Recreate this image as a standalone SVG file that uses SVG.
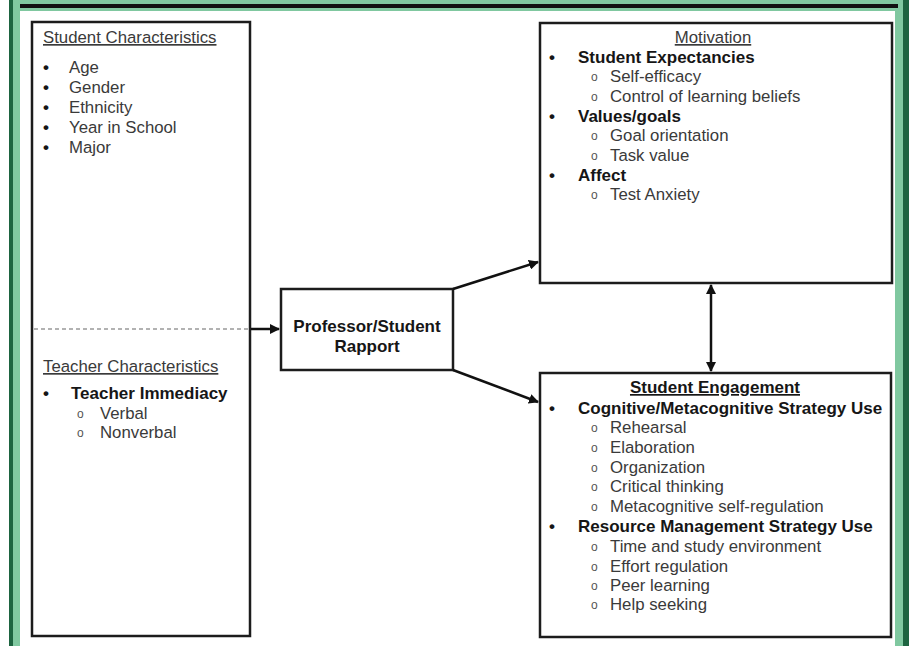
<svg xmlns="http://www.w3.org/2000/svg" width="909" height="646" viewBox="0 0 909 646">
<defs>
<marker id="ah" viewBox="0 0 10 10" refX="9" refY="5" markerWidth="10" markerHeight="10" markerUnits="userSpaceOnUse" orient="auto-start-reverse">
<path d="M0,0 L10,5 L0,10 z" fill="#111"/>
</marker>
<style>
.box{fill:#fff;stroke:#1c1c1c;stroke-width:2.5}
.t{font-family:"Liberation Sans",Arial,sans-serif;font-size:16.8px;fill:#3a3a3a}
.b{font-family:"Liberation Sans",Arial,sans-serif;font-size:17px;font-weight:bold;fill:#161616}
.h{font-family:"Liberation Sans",Arial,sans-serif;font-size:16.8px;fill:#3a3a3a;text-decoration:underline}
.hb{font-family:"Liberation Sans",Arial,sans-serif;font-size:17px;font-weight:bold;fill:#161616;text-decoration:underline}
.bu{font-family:"Liberation Sans",Arial,sans-serif;font-size:17px;font-weight:bold;fill:#161616}
.o{font-family:"Liberation Sans",Arial,sans-serif;font-size:12px;fill:#555}
.c{stroke:#111;stroke-width:2.5;fill:none}
</style>
</defs>
<rect x="0" y="0" width="909" height="646" fill="#fff"/>
<rect x="9" y="0" width="900" height="646" fill="#80c8a0"/>
<rect x="9" y="0" width="4" height="646" fill="#1d6440"/>
<rect x="903" y="0" width="6" height="646" fill="#1d6440"/>
<rect x="20" y="11" width="875" height="635" fill="#fff"/>
<rect x="20" y="4" width="878" height="4" fill="#111"/>

<g id="characteristics">
<rect class="box" x="32" y="22" width="218" height="614"/>
<text class="h" x="43" y="43">Student Characteristics</text>
<g class="bu"><text x="43" y="73">•</text><text x="43" y="93">•</text><text x="43" y="113">•</text><text x="43" y="133">•</text><text x="43" y="153">•</text></g>
<text class="t" x="69" y="73">Age</text>
<text class="t" x="69" y="93">Gender</text>
<text class="t" x="69" y="113">Ethnicity</text>
<text class="t" x="69" y="133">Year in School</text>
<text class="t" x="69" y="153">Major</text>
<line x1="34" y1="329" x2="248" y2="329" stroke="#999" stroke-width="1.5" stroke-dasharray="4 3"/>
<text class="h" x="43" y="372">Teacher Characteristics</text>
<text class="bu" x="43" y="399">•</text>
<text class="b" x="71" y="399">Teacher Immediacy</text>
<text class="o" x="77" y="418">o</text>
<text class="t" x="100" y="419">Verbal</text>
<text class="o" x="77" y="437">o</text>
<text class="t" x="100" y="438">Nonverbal</text>
</g>

<g id="rapport">
<rect class="box" x="281" y="289" width="172" height="81"/>
<text class="b" x="367" y="332" text-anchor="middle">Professor/Student</text>
<text class="b" x="367" y="352" text-anchor="middle">Rapport</text>
</g>

<g id="motivation">
<rect class="box" x="540" y="23" width="352" height="260"/>
<text class="h" x="713" y="43" text-anchor="middle">Motivation</text>
<g class="bu"><text x="549" y="63">•</text><text x="549" y="122">•</text><text x="549" y="181">•</text></g>
<text class="b" x="578" y="63">Student Expectancies</text>
<text class="o" x="591" y="81">o</text><text class="t" x="610" y="82">Self-efficacy</text>
<text class="o" x="591" y="101">o</text><text class="t" x="610" y="102">Control of learning beliefs</text>
<text class="b" x="578" y="122">Values/goals</text>
<text class="o" x="591" y="140">o</text><text class="t" x="610" y="141">Goal orientation</text>
<text class="o" x="591" y="160">o</text><text class="t" x="610" y="161">Task value</text>
<text class="b" x="578" y="181">Affect</text>
<text class="o" x="591" y="199">o</text><text class="t" x="610" y="200">Test Anxiety</text>
</g>

<g id="engagement">
<rect class="box" x="540" y="373" width="351" height="264"/>
<text class="hb" x="715" y="393" text-anchor="middle">Student Engagement</text>
<g class="bu"><text x="549" y="414">•</text><text x="549" y="532">•</text></g>
<text class="b" x="578" y="414">Cognitive/Metacognitive Strategy Use</text>
<text class="o" x="591" y="432">o</text><text class="t" x="610" y="433">Rehearsal</text>
<text class="o" x="591" y="452">o</text><text class="t" x="610" y="453">Elaboration</text>
<text class="o" x="591" y="472">o</text><text class="t" x="610" y="473">Organization</text>
<text class="o" x="591" y="491">o</text><text class="t" x="610" y="492">Critical thinking</text>
<text class="o" x="591" y="511">o</text><text class="t" x="610" y="512">Metacognitive self-regulation</text>
<text class="b" x="578" y="532">Resource Management Strategy Use</text>
<text class="o" x="591" y="551">o</text><text class="t" x="610" y="552">Time and study environment</text>
<text class="o" x="591" y="571">o</text><text class="t" x="610" y="572">Effort regulation</text>
<text class="o" x="591" y="590">o</text><text class="t" x="610" y="591">Peer learning</text>
<text class="o" x="591" y="609">o</text><text class="t" x="610" y="610">Help seeking</text>
</g>

<g id="connectors">
<line class="c" x1="251" y1="329" x2="279" y2="329" marker-end="url(#ah)"/>
<line class="c" x1="453" y1="289" x2="538" y2="262" marker-end="url(#ah)"/>
<line class="c" x1="453" y1="370" x2="538" y2="402" marker-end="url(#ah)"/>
<line class="c" x1="711" y1="285" x2="711" y2="371" marker-start="url(#ah)" marker-end="url(#ah)"/>
</g>
</svg>
